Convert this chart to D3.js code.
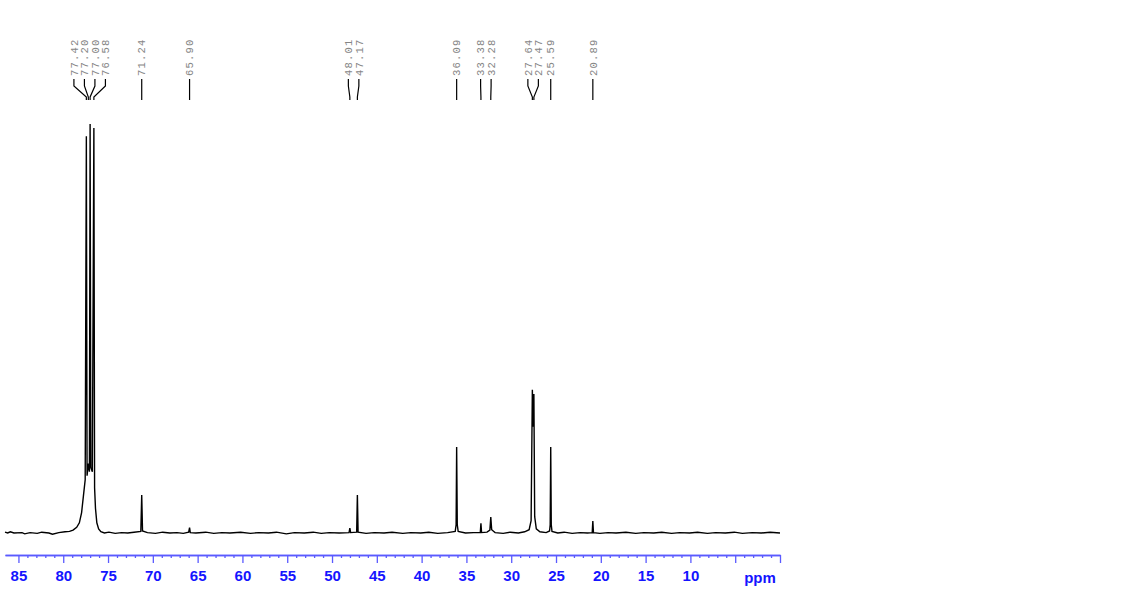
<!DOCTYPE html>
<html lang="en">
	<head>
		<meta charset="UTF-8">
		<title>13C NMR</title>
		<script src="https://cdnjs.cloudflare.com/ajax/libs/d3/7.8.5/d3.min.js"></script>
		<style>
			body { margin: 0; background: #fff; }
			svg { display: block; }
		</style>
		<script>
// picked peaks (ppm) and the labels printed above them
var peakPpm = [77.42, 77.20, 77.00, 76.58, 71.24, 65.90, 48.01, 47.17, 36.09, 33.38, 32.28, 27.64, 27.47, 25.59, 20.89];
var peakLabels = ["77.42", "77.20", "77.00", "76.58", "71.24", "65.90", "48.01", "47.17", "36.09", "33.38", "32.28", "27.64", "27.47", "25.59", "20.89"];

// spectrum trace vertices: [ppm, relative intensity]
var spectrum = [
	[86.5, 0.2], [86.2, 0], [85.9, 0.3], [85.5, 0], [84.6, 0.1], [84.3, -0.2], [83.7, 0.1], [82.9, -0.1],
	[82.4, 0.2], [81.6, 0], [81.2, -0.3], [80.5, 0.1], [79.8, 0.3], [79.3, 0.4], [78.9, 0.7],
	[78.5, 1.4], [78.2, 2.5], [77.95, 5], [77.75, 9], [77.55, 13], [77.42, 97], [77.34, 14],
	[77.2, 17], [77.08, 15], [77.0, 100], [76.92, 16], [76.75, 15], [76.58, 99], [76.5, 11],
	[76.4, 6], [76.25, 2.5], [76.05, 1], [75.8, 0.3], [75.4, 0], [74.9, 0.2], [74.2, -0.1],
	[73.5, 0.1], [72.8, 0], [72.1, 0.2], [71.34, 0.4], [71.24, 9.3], [71.15, 0.5], [70.6, 0.1],
	[69.7, -0.1], [68.9, 0.2], [68.1, 0], [67.3, 0.1], [66.6, -0.1], [66.0, 0.2], [65.9, 1.3],
	[65.82, 0.1], [65.2, 0], [64.1, 0.2], [63.2, -0.1], [62.3, 0.1], [61.4, 0], [60.2, 0.2],
	[59.1, -0.1], [58.2, 0.1], [57.1, 0], [56.2, 0.2], [55.1, -0.2], [54.2, 0.1], [53.1, 0],
	[52.1, 0.2], [51.2, -0.1], [50.3, 0.1], [49.2, 0], [48.1, 0.1], [48.01, 1.2], [47.92, 0.1],
	[47.25, 0.2], [47.17, 9.3], [47.09, 0.2], [46.2, -0.1], [45.3, 0.1], [44.2, 0], [43.3, 0.2],
	[42.1, -0.1], [41.2, 0.1], [40.1, 0], [39.2, 0.2], [38.2, -0.1], [37.1, 0.1], [36.25, 0.4],
	[36.15, 2], [36.09, 21], [36.02, 2], [35.92, 0.4], [35.1, 0], [34.2, 0.1], [33.45, 0.1],
	[33.38, 2.4], [33.31, 0.1], [32.7, 0.2], [32.38, 0.7], [32.28, 3.9], [32.18, 0.8],
	[31.8, 0.1], [30.9, -0.1], [30.1, 0.2], [29.2, 0], [28.5, 0.3], [28.0, 0.8], [27.78, 3],
	[27.64, 35], [27.56, 26], [27.47, 34], [27.38, 4], [27.2, 1], [26.8, 0.3], [26.1, 0.1],
	[25.72, 0.5], [25.65, 2], [25.59, 21], [25.53, 2], [25.45, 0.4], [24.8, 0], [24.1, 0.2],
	[23.2, -0.1], [22.3, 0.1], [21.5, 0], [20.96, 0.1], [20.89, 2.9], [20.82, 0.1], [20.1, -0.1],
	[19.2, 0.1], [18.3, 0], [17.2, 0.2], [16.1, -0.1], [15.2, 0.1], [14.1, 0], [13.2, 0.2],
	[12.1, -0.1], [11.2, 0.1], [10.1, 0], [9.2, 0.2], [8.1, -0.1], [7.2, 0.1], [6.1, 0],
	[5.1, 0.2], [4.2, -0.1], [3.1, 0.1], [2.1, 0], [1.1, 0.2], [0, 0]
];

// axis ticks
var majorTicks = [85, 80, 75, 70, 65, 60, 55, 50, 45, 40, 35, 30, 25, 20, 15, 10, 5, 0];
var tickLabels = ["85", "80", "75", "70", "65", "60", "55", "50", "45", "40", "35", "30", "25", "20", "15", "10", "", ""];
var minorTicks = d3.range(1, 86).filter(v => v % 5 !== 0);

function makeChart() {
	var svg = d3.select("svg");

	var scX = d3.scaleLinear().domain([86.5, 0]).range([5, 780]);
	var scY = d3.scaleLinear().domain([0, 100]).range([533, 124]);

	// spectrum trace
	var lnMkr = d3.line()
		.x(d => scX(d[0]))
		.y(d => scY(d[1]));

	svg.append("path")
		.attr("d", lnMkr(spectrum))
		.attr("fill", "none")
		.attr("stroke", "#000")
		.attr("stroke-width", 1.4)
		.attr("stroke-linejoin", "miter");

	// spread the peak labels so they do not overlap
	var gap = 10.5;
	var groups = peakPpm.map((p, i) => ({ idx: [i], xs: [scX(p)] }));
	groups.sort((a, b) => a.xs[0] - b.xs[0]);
	var place = g => {
		var mean = d3.mean(g.xs);
		g.start = mean - gap * (g.xs.length - 1) / 2;
		g.end = g.start + gap * (g.xs.length - 1);
	};
	groups.forEach(place);
	var merged = true;
	while (merged) {
		merged = false;
		for (var i = 0; i < groups.length - 1; i++) {
			if (groups[i + 1].start - groups[i].end < gap) {
				var g = { idx: groups[i].idx.concat(groups[i + 1].idx), xs: groups[i].xs.concat(groups[i + 1].xs) };
				place(g);
				groups.splice(i, 2, g);
				merged = true;
				break;
			}
		}
	}
	var labelX = [];
	groups.forEach(g => {
		var order = g.idx.slice().sort((a, b) => scX(peakPpm[a]) - scX(peakPpm[b]));
		order.forEach((k, j) => { labelX[k] = g.start + j * gap; });
	});

	var lab = svg.append("g");
	peakPpm.forEach((p, i) => {
		var lx = labelX[i], px = scX(p);
		lab.append("path")
			.attr("d", `M${lx},79 L${lx},86 L${px},97 L${px},100`)
			.attr("fill", "none")
			.attr("stroke", "#000")
			.attr("stroke-width", 1.2);
		lab.append("text")
			.attr("transform", `translate(${lx},76) rotate(-90)`)
			.attr("dy", "0.35em")
			.attr("fill", "#858585")
			.style("font-family", "'Liberation Mono', 'DejaVu Sans Mono', monospace")
			.style("font-size", "10.5px")
			.style("letter-spacing", "1.2px")
			.text(peakLabels[i]);
	});

	// ppm axis
	var axG = svg.append("g").attr("transform", "translate(0,555)");
	axG.append("g")
		.call(d3.axisBottom(scX).tickValues(minorTicks).tickSize(3).tickSizeOuter(0).tickFormat(""));
	axG.append("g")
		.call(d3.axisBottom(scX).tickValues(majorTicks).tickSize(8).tickSizeOuter(0)
			.tickFormat((d, i) => tickLabels[i]).tickPadding(7));
	axG.selectAll("path.domain").attr("stroke", "#5a5aff").attr("stroke-width", 1.5);
	axG.selectAll(".tick line").attr("stroke", "#5a5aff").attr("stroke-width", 1.3);
	axG.selectAll("text")
		.attr("fill", "#1414ff")
		.style("font-family", "Arial, 'Liberation Sans', sans-serif")
		.style("font-weight", "bold")
		.style("font-size", "15px");

	axG.append("text")
		.attr("x", 760)
		.attr("y", 28)
		.attr("text-anchor", "middle")
		.attr("fill", "#1414ff")
		.style("font-family", "Arial, 'Liberation Sans', sans-serif")
		.style("font-weight", "bold")
		.style("font-size", "15px")
		.text("ppm");
}
		</script>
	</head>
	<body onload="makeChart()">
		<svg width="1138" height="594"></svg>
	</body>
</html>
